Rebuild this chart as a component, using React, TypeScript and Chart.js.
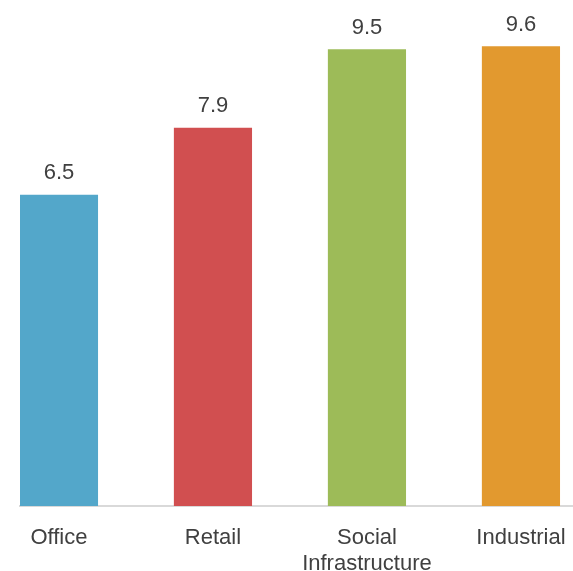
import React, { useEffect, useRef } from "react";
import { Chart, registerables } from "chart.js";

Chart.register(...registerables);

const categoryLabels: (string | string[])[] = ["Office", "Retail", ["Social", "Infrastructure"], "Industrial"];
const values: number[] = [6.5, 7.9, 9.54, 9.6];
const barColors: string[] = ["#53A7CA", "#D14F50", "#9DBB58", "#E2992F"];

const FONT = '"Liberation Sans", Arial, Helvetica, sans-serif';
const TEXT_COLOR = "#404040";

const valueLabelPlugin = {
  id: "valueLabels",
  afterDatasetsDraw(chart: any) {
    const ctx = chart.ctx;
    const meta = chart.getDatasetMeta(0);
    ctx.save();
    ctx.font = `22px ${FONT}`;
    ctx.fillStyle = TEXT_COLOR;
    ctx.textAlign = "center";
    ctx.textBaseline = "alphabetic";
    meta.data.forEach((el: any, i: number) => {
      ctx.fillText(values[i].toFixed(1), el.x, el.y - 16);
    });
    ctx.restore();
  },
};

export default function App() {
  const canvasRef = useRef<HTMLCanvasElement | null>(null);

  useEffect(() => {
    if (!canvasRef.current) return;
    const chart = new Chart(canvasRef.current, {
      type: "bar",
      data: {
        datasets: [
          {
            data: values.map((v, i) => ({ x: i, y: v })),
            backgroundColor: barColors,
            borderWidth: 0,
            barThickness: 77.5,
          },
        ],
      },
      options: {
        animation: false,
        responsive: false,
        devicePixelRatio: 1,
        layout: { padding: { left: 20, right: 0, top: 27.5, bottom: 0 } },
        plugins: {
          legend: { display: false },
          tooltip: { enabled: false },
        },
        scales: {
          x: {
            type: "linear",
            min: -0.253,
            max: 3.338,
            offset: false,
            bounds: "data",
            grid: { display: false, drawTicks: false },
            border: { display: true, color: "#d9d9d9", width: 2 },
            afterBuildTicks: (scale: any) => {
              scale.ticks = categoryLabels.map((_, i) => ({ value: i }));
            },
            afterFit: (scale: any) => {
              scale.paddingLeft = 0;
              scale.paddingRight = 0;
            },
            ticks: {
              autoSkip: false,
              maxRotation: 0,
              minRotation: 0,
              padding: 18.6,
              color: TEXT_COLOR,
              font: { family: FONT, size: 22, lineHeight: 1.2 },
              callback: (_v: any, index: number) => categoryLabels[index],
            },
          },
          y: { display: false, min: 0, max: 10 },
        },
      },
      plugins: [valueLabelPlugin],
    } as any);
    return () => chart.destroy();
  }, []);

  return (
    <div
      style={{
        position: "fixed",
        left: 0,
        top: 0,
        width: 573,
        height: 571,
        overflow: "hidden",
        background: "#ffffff",
      }}
    >
      <canvas ref={canvasRef} width={573} height={596} style={{ display: "block" }} />
    </div>
  );
}
